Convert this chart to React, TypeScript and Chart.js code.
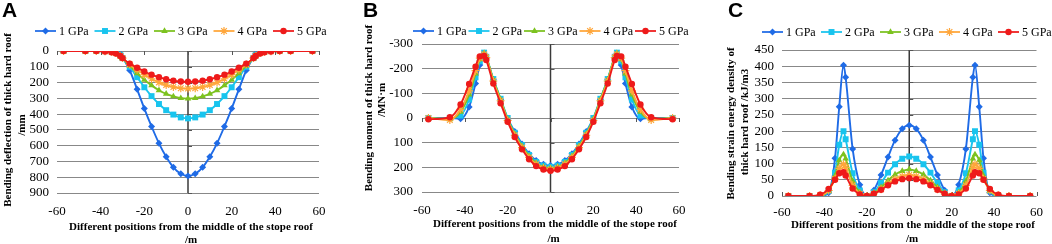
import React, { useEffect, useRef } from "react";
import { Chart, registerables } from "chart.js";

Chart.register(...registerables);

// ---------- data ----------
const positions = [-57, -47, -42, -38, -35, -33, -31, -30, -26.7, -23.3, -20, -16.7, -13.3, -10, -6.7, -3.3, 0, 3.3, 6.7, 10, 13.3, 16.7, 20, 23.3, 26.7, 30, 31, 33, 35, 38, 42, 47, 57];
const seriesNames = ["1 GPa", "2 GPa", "3 GPa", "4 GPa", "5 GPa"];

const deflection1GPa = [0, 0, 0, 0, 0, 3, 18, 40, 122, 243, 365, 478, 585, 670, 737, 778, 792, 778, 737, 670, 585, 478, 365, 243, 122, 40, 18, 3, 0, 0, 0, 0, 0];
const deflection2GPa = [0, 0, 0, 0, 2, 8, 26, 45, 100, 166, 230, 286, 336, 375, 403, 421, 427, 421, 403, 375, 336, 286, 230, 166, 100, 45, 26, 8, 2, 0, 0, 0, 0];
const deflection3GPa = [0, 0, 0, 0, 3, 10, 28, 45, 94, 142, 183, 218, 249, 272, 288, 299, 302, 299, 288, 272, 249, 218, 183, 142, 94, 45, 28, 10, 3, 0, 0, 0, 0];
const deflection4GPa = [0, 0, 0, 1, 5, 13, 30, 45, 85, 119, 150, 176, 199, 216, 228, 236, 238, 236, 228, 216, 199, 176, 150, 119, 85, 45, 30, 13, 5, 1, 0, 0, 0];
const deflection5GPa = [0, 0, 0, 3, 8, 16, 32, 45, 80, 106, 130, 150, 166, 179, 188, 193, 195, 193, 188, 179, 166, 150, 130, 106, 80, 45, 32, 16, 8, 3, 0, 0, 0];

const moment1GPa = [0, 0, 3, -45, -140, -215, -262, -245, -155, -75, 3, 55, 105, 145, 172, 188, 193, 188, 172, 145, 105, 55, 3, -75, -155, -245, -262, -215, -140, -45, 3, 0, 0];
const moment2GPa = [0, 0, -10, -75, -165, -230, -265, -248, -158, -78, 0, 60, 110, 150, 178, 193, 198, 193, 178, 150, 110, 60, 0, -78, -158, -248, -265, -230, -165, -75, -10, 0, 0];
const moment3GPa = [0, 5, -25, -95, -180, -238, -262, -248, -155, -75, 5, 65, 115, 155, 183, 198, 203, 198, 183, 155, 115, 65, 5, -75, -155, -248, -262, -238, -180, -95, -25, 5, 0];
const moment4GPa = [0, 8, -35, -110, -192, -243, -258, -245, -150, -70, 10, 70, 120, 160, 188, 203, 208, 203, 188, 160, 120, 70, 10, -70, -150, -245, -258, -243, -192, -110, -35, 8, 0];
const moment5GPa = [5, -3, -55, -138, -208, -250, -252, -235, -140, -60, 15, 77, 127, 167, 195, 209, 214, 209, 195, 167, 127, 77, 15, -60, -140, -235, -252, -250, -208, -138, -55, -3, 5];

const energy1GPa = [0, 0, 0, 10, 116, 275, 403, 366, 145, 35, 0, 18, 65, 120, 172, 207, 218, 207, 172, 120, 65, 18, 0, 35, 145, 366, 403, 275, 116, 10, 0, 0, 0];
const energy2GPa = [0, 0, 0, 16, 72, 158, 200, 175, 70, 17, 0, 12, 40, 72, 98, 115, 122, 115, 98, 72, 40, 12, 0, 17, 70, 175, 200, 158, 72, 16, 0, 0, 0];
const energy3GPa = [0, 0, 1, 17, 62, 110, 128, 115, 46, 11, 0, 9, 27, 48, 66, 77, 82, 77, 66, 48, 27, 9, 0, 11, 46, 115, 128, 110, 62, 17, 1, 0, 0];
const energy4GPa = [0, 0, 2, 17, 53, 85, 98, 88, 33, 7, 0, 7, 21, 38, 52, 61, 65, 61, 52, 38, 21, 7, 0, 7, 33, 88, 98, 85, 53, 17, 2, 0, 0];
const energy5GPa = [0, 0, 4, 22, 50, 70, 73, 63, 23, 5, 0, 7, 19, 33, 45, 52, 55, 52, 45, 33, 19, 7, 0, 5, 23, 63, 73, 70, 50, 22, 4, 0, 0];

const xTitle = ["Different positions from the middle of the stope roof", "/m"];
const yTitleA = ["Bending deflection of thick hard roof", "/mm"];
const yTitleB = ["Bending moment of thick hard roof", "/MN·m"];
const yTitleC = ["Bending strain energy density of", "thick hard roof /kJ/m3"];

// ---------- styles ----------
const SERIF = "'Liberation Serif','Times New Roman',serif";
const colors = ["#1F6BE6", "#18C4EE", "#7CC21F", "#FFA63A", "#EE1A1A"];
const markers = ["rectRot", "rect", "triangle", "star", "circle"];
const markerRadius = [3.5, 4.2, 3.8, 4, 3.2];
const H = 244;

type PanelCfg = {
  letter: string;
  left: number;
  width: number;
  series: number[][];
  yMin: number;
  yMax: number;
  yStep: number;
  reverse: boolean;
  area: { left: number; right: number; top: number; bottom: number };
  xTickPad: number;
  yTickPad: number;
  axisTickDir: number;
  legend: { x: number; pitch: number; y: number };
  yTitle: string[];
  yTitlePos: number[][];
  xTitlePos: number[][];
};

const panels: PanelCfg[] = [
  {
    letter: "A", left: 0, width: 350,
    series: [deflection1GPa, deflection2GPa, deflection3GPa, deflection4GPa, deflection5GPa],
    yMin: 0, yMax: 900, yStep: 100, reverse: true,
    area: { left: 57, right: 319, top: 51, bottom: 193 },
    xTickPad: 11, yTickPad: 8, axisTickDir: 1,
    legend: { x: 35, pitch: 59.5, y: 31 },
    yTitle: yTitleA, yTitlePos: [[8.5, 120], [22, 125]],
    xTitlePos: [[191, 227], [191, 240]],
  },
  {
    letter: "B", left: 350, width: 350,
    series: [moment1GPa, moment2GPa, moment3GPa, moment4GPa, moment5GPa],
    yMin: -300, yMax: 300, yStep: 100, reverse: true,
    area: { left: 72, right: 329, top: 44, bottom: 192 },
    xTickPad: 11, yTickPad: 9, axisTickDir: 1,
    legend: { x: 63, pitch: 55.5, y: 31 },
    yTitle: yTitleB, yTitlePos: [[19, 108], [32, 100]],
    xTitlePos: [[205, 224], [203.5, 239]],
  },
  {
    letter: "C", left: 700, width: 352,
    series: [energy1GPa, energy2GPa, energy3GPa, energy4GPa, energy5GPa],
    yMin: 0, yMax: 450, yStep: 50, reverse: false,
    area: { left: 82, right: 341, top: 50, bottom: 196 },
    xTickPad: 9, yTickPad: 8, axisTickDir: -1,
    legend: { x: 62, pitch: 59, y: 32 },
    yTitle: yTitleC, yTitlePos: [[31, 123.5], [45, 122]],
    xTitlePos: [[213, 225.5], [212, 239]],
  },
];

function drawMarker(ctx: CanvasRenderingContext2D, style: string, x: number, y: number, r: number) {
  ctx.beginPath();
  if (style === "rectRot") {
    ctx.moveTo(x, y - r); ctx.lineTo(x + r, y); ctx.lineTo(x, y + r); ctx.lineTo(x - r, y); ctx.closePath(); ctx.fill();
  } else if (style === "rect") {
    const s = r * Math.SQRT1_2; ctx.rect(x - s, y - s, 2 * s, 2 * s); ctx.fill();
  } else if (style === "triangle") {
    ctx.moveTo(x, y - r); ctx.lineTo(x + 0.866 * r, y + 0.5 * r); ctx.lineTo(x - 0.866 * r, y + 0.5 * r); ctx.closePath(); ctx.fill();
  } else if (style === "star") {
    const d = r * Math.SQRT1_2;
    ctx.moveTo(x - r, y); ctx.lineTo(x + r, y); ctx.moveTo(x, y - r); ctx.lineTo(x, y + r);
    ctx.moveTo(x - d, y - d); ctx.lineTo(x + d, y + d); ctx.moveTo(x - d, y + d); ctx.lineTo(x + d, y - d);
    ctx.stroke();
  } else {
    ctx.arc(x, y, r, 0, Math.PI * 2); ctx.fill();
  }
}

function makeDecor(cfg: PanelCfg) {
  return {
    id: "panelDecor" + cfg.letter,
    beforeDatasetsDraw(chart: any) {
      const { ctx, chartArea } = chart;
      const xs = chart.scales.x;
      const ys = chart.scales.y;
      ctx.save();
      const x0 = xs.getPixelForValue(0);
      const y0 = ys.getPixelForValue(0);
      ctx.strokeStyle = "#3a3a3a";
      ctx.lineWidth = 1.5;
      ctx.beginPath();
      ctx.moveTo(x0, chartArea.top);
      ctx.lineTo(x0, chartArea.bottom);
      ctx.stroke();
      ctx.lineWidth = 1;
      ctx.strokeStyle = "#555";
      ctx.beginPath();
      for (const t of ys.ticks) {
        const py = Math.round(ys.getPixelForValue(t.value)) + 0.5;
        ctx.moveTo(x0, py);
        ctx.lineTo(x0 + 4, py);
      }
      for (const t of xs.ticks) {
        const px = Math.round(xs.getPixelForValue(t.value)) + 0.5;
        ctx.moveTo(px, y0);
        ctx.lineTo(px, y0 + cfg.axisTickDir * 4);
      }
      ctx.stroke();
      ctx.restore();
    },
    afterDraw(chart: any) {
      const { ctx } = chart;
      ctx.save();
      // legend
      ctx.font = `12px ${SERIF}`;
      ctx.textBaseline = "middle";
      ctx.textAlign = "left";
      seriesNames.forEach((name, i) => {
        const lx = cfg.legend.x + i * cfg.legend.pitch;
        const ly = cfg.legend.y;
        ctx.strokeStyle = colors[i];
        ctx.fillStyle = colors[i];
        ctx.lineWidth = 1.75;
        ctx.beginPath();
        ctx.moveTo(lx, ly);
        ctx.lineTo(lx + 21, ly);
        ctx.stroke();
        ctx.lineWidth = 1.2;
        drawMarker(ctx, markers[i], lx + 10.5, ly, markerRadius[i]);
        ctx.fillStyle = "#000";
        ctx.fillText(name, lx + 24, ly + 0.5);
      });
      // titles
      ctx.fillStyle = "#000";
      ctx.font = `bold 11px ${SERIF}`;
      ctx.textAlign = "center";
      ctx.textBaseline = "middle";
      cfg.yTitle.forEach((line, i) => {
        const [tx, ty] = cfg.yTitlePos[i];
        ctx.save();
        ctx.translate(tx, ty);
        ctx.rotate(-Math.PI / 2);
        ctx.fillText(line, 0, 0);
        ctx.restore();
      });
      xTitle.forEach((line, i) => {
        const [tx, ty] = cfg.xTitlePos[i];
        ctx.fillText(line, tx, ty);
      });
      ctx.restore();
    },
  };
}

function Panel({ cfg }: { cfg: PanelCfg }) {
  const ref = useRef<HTMLCanvasElement>(null);
  useEffect(() => {
    if (!ref.current) return;
    const datasets = cfg.series.map((vals, i) => ({
      label: seriesNames[i],
      data: positions.map((x, j) => ({ x, y: vals[j] })),
      borderColor: colors[i],
      backgroundColor: colors[i],
      pointBackgroundColor: colors[i],
      pointBorderColor: colors[i],
      pointStyle: markers[i],
      pointRadius: markerRadius[i],
      pointBorderWidth: markers[i] === "star" ? 1.2 : 0,
      borderWidth: 1.9,
      cubicInterpolationMode: "monotone" as const,
      fill: false,
      order: 5 - i,
    }));
    const chart = new Chart(ref.current, {
      type: "line",
      data: { datasets },
      plugins: [makeDecor(cfg)],
      options: {
        animation: false,
        responsive: false,
        devicePixelRatio: 1,
        layout: { padding: { left: 0, top: cfg.area.top, right: cfg.width - cfg.area.right, bottom: 0 } },
        plugins: { legend: { display: false }, tooltip: { enabled: false } },
        scales: {
          x: {
            type: "linear",
            min: -60,
            max: 60,
            ticks: { stepSize: 20, font: { family: SERIF, size: 13 }, color: "#000", padding: cfg.xTickPad, maxRotation: 0, autoSkip: false },
            grid: { display: false, drawTicks: false },
            border: { display: false },
            afterFit: (s: any) => { s.height = H - cfg.area.bottom; },
          },
          y: {
            type: "linear",
            min: cfg.yMin,
            max: cfg.yMax,
            reverse: cfg.reverse,
            ticks: { stepSize: cfg.yStep, font: { family: SERIF, size: 13 }, color: "#000", padding: cfg.yTickPad, autoSkip: false },
            grid: { color: "#888888", lineWidth: 1, drawTicks: false },
            border: { display: false },
            afterFit: (s: any) => { s.width = cfg.area.left; },
          },
        },
      },
    });
    return () => chart.destroy();
  }, []);
  return (
    <canvas
      ref={ref}
      width={cfg.width}
      height={H}
      style={{ position: "absolute", left: cfg.left, top: 0, width: cfg.width, height: H }}
    />
  );
}

const letterLeft = [2, 363, 728];

export default function App() {
  return (
    <div style={{ position: "absolute", left: 0, top: 0, width: 1052, height: H, overflow: "hidden", background: "#fff" }}>
      {panels.map((p) => (
        <Panel key={p.letter} cfg={p} />
      ))}
      {panels.map((p, i) => (
        <div
          key={"l" + p.letter}
          style={{
            position: "absolute",
            left: letterLeft[i],
            top: -1,
            fontFamily: "'Liberation Sans', Arial, sans-serif",
            fontWeight: "bold",
            fontSize: 21,
            lineHeight: "21px",
            color: "#000",
          }}
        >
          {p.letter}
        </div>
      ))}
    </div>
  );
}
